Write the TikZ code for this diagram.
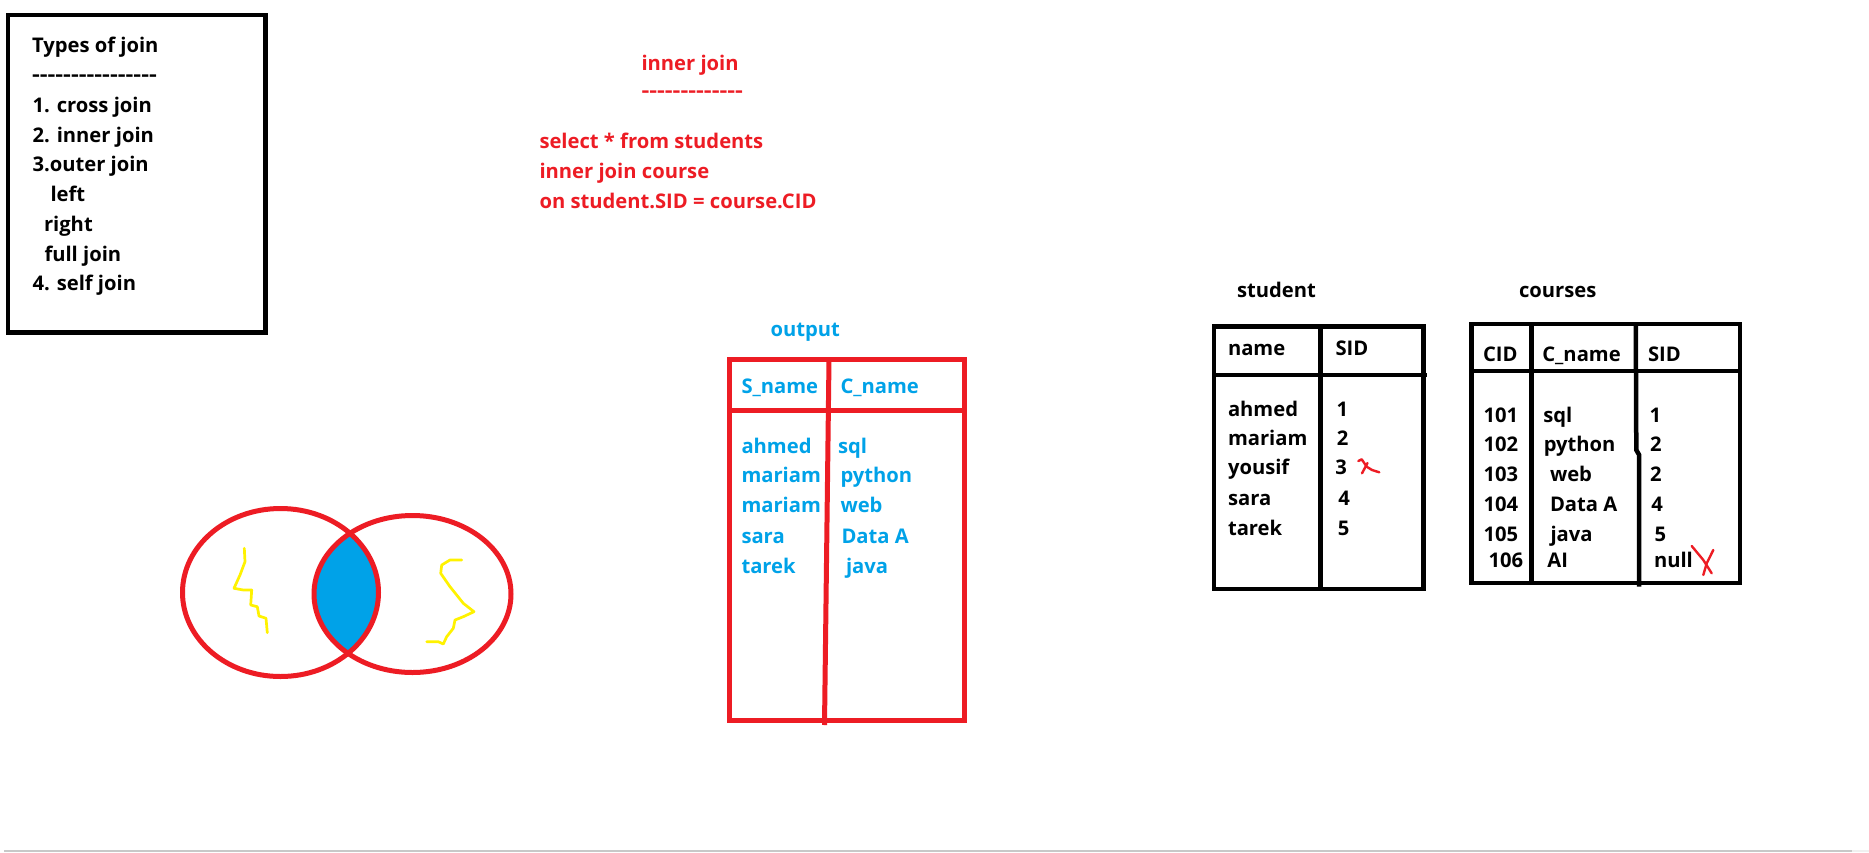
\documentclass[tikz,border=0pt]{standalone}
\usepackage{fontspec}
\setmainfont{Open Sans}
\usepackage{graphicx}
\definecolor{pred}{HTML}{ED1C24}
\definecolor{pblue}{HTML}{00A2E8}
\definecolor{pyel}{HTML}{FFF200}
\definecolor{pgrayline}{HTML}{C8C8C8}
\newcommand\fsz{\fontsize{20.2}{24}\selectfont\bfseries}
\newcommand\dd{-\kern0pt}
\tikzset{
  txt/.style={anchor=base west, inner sep=0pt, outer sep=0pt, font=\fsz},
  blk/.style={draw=black, line width=4.5pt},
  rd/.style={draw=pred, line width=5pt},
  scrib/.style={draw=pyel, line width=2.7pt, line join=round, line cap=round},
  redmark/.style={draw=pred, line width=2.4pt, line join=round, line cap=round}
}
\begin{document}
\begin{tikzpicture}[x=1pt, y=-1pt]
\useasboundingbox (0,0) rectangle (1869,852);
\fill[white] (0,0) rectangle (1869,852);
% bottom gray strip
\fill[pgrayline] (4,850) rectangle (1852,852);
\fill[black!6] (1852,850) rectangle (1869,852);

% ---------- Types of join box ----------
\draw[blk] (8,15) rectangle (265.5,332.5);
\node[txt] (tj0) at (32,52) {Types of join};
\node[txt] (tj1) at (32,81) {\scalebox{1.2}[1]{\dd\dd\dd\dd\dd\dd\dd\dd\dd\dd\dd\dd\dd\dd\dd\dd}};
\node[txt] (tj2) at (32.5,112) {1. cross join};
\node[txt] (tj3) at (32.5,142) {2. inner join};
\node[txt] (tj4) at (32.5,171.5) {3.outer join};
\node[txt] (tj5) at (50.5,201) {left};
\node[txt] (tj6) at (44,231) {right};
\node[txt] (tj7) at (44.5,261) {full join};
\node[txt] (tj8) at (32.5,290.5) {4. self join};

% ---------- inner join query ----------
\node[txt, pred] (q0) at (641.5,70.3) {inner join};
\node[txt, pred] (q1) at (641.5,97) {\scalebox{1.2}[1]{\dd\dd\dd\dd\dd\dd\dd\dd\dd\dd\dd\dd\dd}};
\node[txt, pred] (q2) at (539.5,148.8) {select * from students};
\node[txt, pred] (q3) at (539.5,178.6) {inner join course};
\node[txt, pred] (q4) at (539.5,208.4) {on student.SID = course.CID};

% ---------- Venn diagram ----------
\begin{scope}
  \clip (280.5,592.5) ellipse [x radius=98pt, y radius=84pt];
  \fill[pblue] (412.5,594) ellipse [x radius=98.5pt, y radius=78.5pt];
\end{scope}
\draw[rd] (280.5,592.5) ellipse [x radius=98pt, y radius=84pt];
\draw[rd] (412.5,594) ellipse [x radius=98.5pt, y radius=78.5pt];
\draw[scrib] (244.3,548.3) -- (245,561.7) -- (240,575) -- (234,588.3) -- (243.3,590) -- (251.7,590) -- (250.7,605) -- (257.3,606.7) -- (259,616) -- (266,618.3) -- (267.3,632.7);
\draw[scrib] (461.7,560) -- (450,560) -- (441.7,565) -- (440.7,573.3) -- (450,586.7) -- (463.3,603.3) -- (474,611.7) -- (463.3,616.7) -- (455,620) -- (453.3,628.3) -- (446.7,636.7) -- (443.3,644) -- (438.3,641.7) -- (426.7,641.7);

% ---------- output table ----------
\node[txt, pblue] (o0) at (770.5,336) {output};
\draw[rd] (729,359) rectangle (964,720.5);
\draw[rd] (729,410.5) -- (964,410.5);
\draw[rd] (829,359) -- (824.5,725);
\node[txt, pblue] (o1) at (741.5,393) {S\_name};
\node[txt, pblue] (o2) at (840.5,393) {C\_name};
\node[txt, pblue] (o3) at (741.5,453) {ahmed};
\node[txt, pblue] (o4) at (741.5,482.7) {mariam};
\node[txt, pblue] (o5) at (741.5,512.7) {mariam};
\node[txt, pblue] (o6) at (741.5,543) {sara};
\node[txt, pblue] (o7) at (741.5,573) {tarek};
\node[txt, pblue] (o8) at (838,453) {sql};
\node[txt, pblue] (o9) at (840.5,482.7) {python};
\node[txt, pblue] (o10) at (840.5,512.7) {web};
\node[txt, pblue] (o11) at (841.5,543) {Data A};
\node[txt, pblue] (o12) at (846,573) {java};

% ---------- student table ----------
\node[txt] (s0) at (1237,297.5) {student};
\draw[blk] (1213.8,326.7) rectangle (1423.3,589.2);
\draw[blk] (1213.8,375) -- (1427.3,375);
\draw[blk] (1320.5,326.7) -- (1320.5,589.2);
\node[txt] (s1) at (1228,355.7) {name};
\node[txt] (s2) at (1335.5,355.7) {SID};
\node[txt] (s3) at (1228,416) {ahmed};
\node[txt] (s4) at (1228,445.7) {mariam};
\node[txt] (s5) at (1228,474.5) {yousif};
\node[txt] (s6) at (1228,505) {sara};
\node[txt] (s7) at (1228,535.7) {tarek};
\node[txt] (s8) at (1336.5,416) {1};
\node[txt] (s9) at (1336.8,445.7) {2};
\node[txt] (s10) at (1335.3,474.5) {3};
\node[txt] (s11) at (1338.3,505) {4};
\node[txt] (s12) at (1337.8,535.7) {5};
\draw[redmark] (1358.3,461) -- (1361.7,459.3) -- (1366.7,466.7) -- (1372,470) -- (1379.3,472.3);
\draw[redmark] (1367.5,463) -- (1362,473.3);

% ---------- courses table ----------
\node[txt] (c0) at (1519,297) {courses};
\draw[blk] (1471.7,323.8) rectangle (1740,583);
\draw[blk] (1471.7,371.2) -- (1740,371.2);
\draw[blk] (1531.7,323.8) -- (1531.7,583);
\draw[blk] (1635.8,323.8) -- (1636.3,450) -- (1639.2,455) -- (1639.2,586.7);
\node[txt] (c1) at (1483,361.7) {CID};
\node[txt] (c2) at (1542.3,361.7) {C\_name};
\node[txt] (c3) at (1648,361.7) {SID};
\node[txt] (c4) at (1483.5,422.3) {101};
\node[txt] (c5) at (1483.5,451.7) {102};
\node[txt] (c6) at (1483.5,481.7) {103};
\node[txt] (c7) at (1483.5,511.7) {104};
\node[txt] (c8) at (1483.5,541.7) {105};
\node[txt] (c9) at (1488.5,567.3) {106};
\node[txt] (c10) at (1543.3,422.3) {sql};
\node[txt] (c11) at (1543.8,451.7) {python};
\node[txt] (c12) at (1550,481.7) {web};
\node[txt] (c13) at (1550,511.7) {Data A};
\node[txt] (c14) at (1550.5,541.7) {java};
\node[txt] (c15) at (1547.3,567.3) {AI};
\node[txt] (c16) at (1649.5,422.3) {1};
\node[txt] (c17) at (1650.2,451.7) {2};
\node[txt] (c18) at (1650.2,481.7) {2};
\node[txt] (c19) at (1651.3,511.7) {4};
\node[txt] (c20) at (1654.5,541.7) {5};
\node[txt] (c21) at (1654,567.3) {null};
\draw[redmark] (1691.7,546) -- (1703.3,560) -- (1711.7,573.3);
\draw[redmark] (1713.3,550) -- (1706.7,563.3) -- (1703.3,575);
\end{tikzpicture}
\end{document}
